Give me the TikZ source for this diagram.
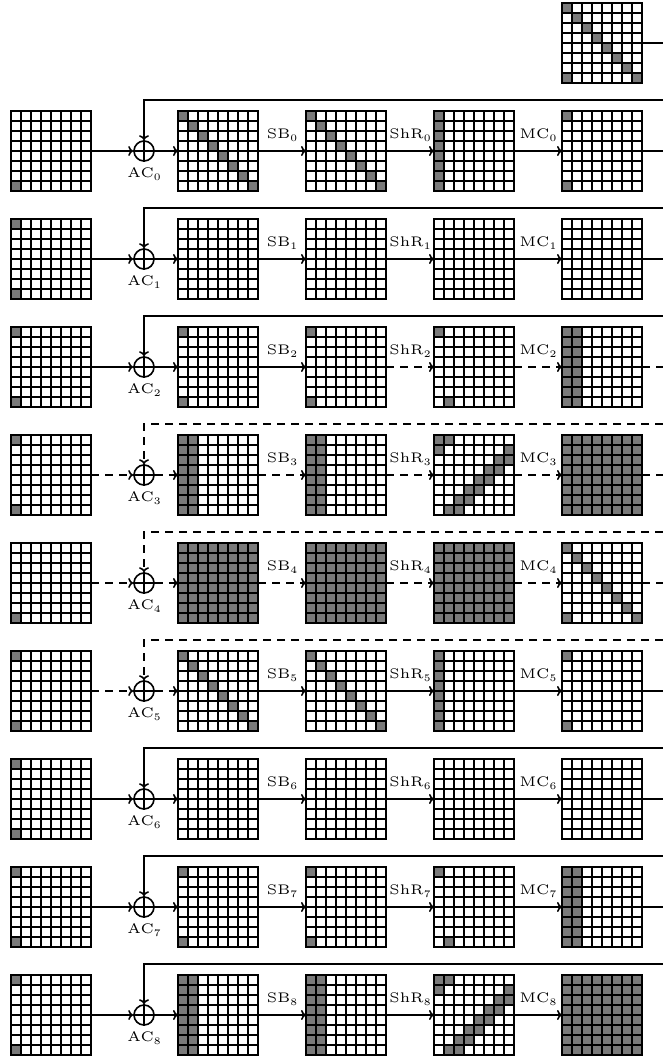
\documentclass[tikz,border=0pt]{standalone}
\usetikzlibrary{arrows.meta}
\tikzset{
  gridbox/.style={draw=none, minimum size=80pt, inner sep=0pt, outer sep=0pt},
  gline/.style={line width=1.5pt, line cap=rect},
  cellfill/.style={fill=black!52},
  conn/.style={line width=1.6pt},
  arr/.style={conn, -{To[length=5pt,width=10pt]}},
  dsh/.style={dash pattern=on 8pt off 6pt},
  xorc/.style={circle, draw, line width=1.6pt, minimum size=20pt, inner sep=0pt},
  lab/.style={inner sep=0pt, anchor=base},
}
\def\No{}
\def\Dg{0/0/0/0,1/1/1/1,2/2/2/2,3/3/3/3,4/4/4/4,5/5/5/5,6/6/6/6,7/7/7/7}
\def\Tp{0/0/0/0,1/1/1/1,2/2/2/2,3/3/3/3,4/4/4/4,5/5/5/5,6/6/6/6,7/7/7/7,7/0/7/0}
\def\Cz{0/0/7/0}
\def\Co{0/0/7/1}
\def\Al{0/0/7/7}
\def\Kb{7/0/7/0}
\def\Kt{0/0/0/0,7/0/7/0}
\def\Sh{0/0/0/0,7/1/7/1}
\def\St{0/0/0/1,1/0/1/0,1/7/1/7,2/6/2/7,3/5/3/6,4/4/4/5,5/3/5/4,6/2/6/3,7/1/7/2}
\newcommand\lbl[2]{\scalebox{2.78}{\fontsize{5}{6}\selectfont #1\raisebox{-1.1pt}{\fontsize{3.6}{4}\selectfont #2}}}
\newcommand\cellgrid[4]{%
  \node[gridbox] (#1) at (#2+40,#3+40) {};
  \ifx#4\No\else
    \foreach \pa/\pb/\pc/\pd in #4 {\fill[cellfill] (#2+\pb*10,#3+\pa*10) rectangle (#2+\pd*10+10,#3+\pc*10+10);}
  \fi
  \foreach \k in {0,...,8} {\draw[gline] (#2+\k*10,#3) -- (#2+\k*10,#3+80); \draw[gline] (#2,#3+\k*10) -- (#2+80,#3+\k*10);}
}
\newcommand\staterow[9]{%
  \pgfmathsetmacro\Y{111+108*#1}
  \pgfmathsetmacro\Yc{\Y+40}
  \cellgrid{k-#1}{11}{\Y}{#2}
  \cellgrid{a-#1}{178}{\Y}{#3}
  \cellgrid{s-#1}{306}{\Y}{#4}
  \cellgrid{h-#1}{434}{\Y}{#5}
  \cellgrid{m-#1}{562}{\Y}{#6}
  \node[xorc] (x-#1) at (144,\Yc) {};
  \draw[line width=1.4pt] (x-#1.north) -- (x-#1.south) (x-#1.west) -- (x-#1.east);
  \coordinate (in-#1) at (663,\Y-11);
  \coordinate (out-#1) at (663,\Yc);
  \draw[arr,#7] (in-#1) -| (x-#1);
  \draw[arr,#7] (k-#1) -- (x-#1);
  \draw[arr,#7] (x-#1) -- (a-#1);
  \draw[arr,#8] (a-#1) -- (s-#1);
  \draw[arr,#9] (s-#1) -- (h-#1);
  \draw[arr,#9] (h-#1) -- (m-#1);
  \node[lab] (lac-#1) at (144,\Yc+26) {\lbl{AC}{#1}};
  \node[lab] (lsb-#1) at (282,\Yc-12.3) {\lbl{SB}{#1}};
  \node[lab] (lsh-#1) at (410,\Yc-12.3) {\lbl{ShR}{#1}};
  \node[lab] (lmc-#1) at (538,\Yc-12.3) {\lbl{MC}{#1}};
}
\begin{document}
\begin{tikzpicture}[x=1pt,y=-1pt]
\fill[white] (0,0) rectangle (663,1057);
\useasboundingbox (0,0) rectangle (663,1057);
\cellgrid{top}{562}{3}{\Tp}
\coordinate (topout) at (663,43);
\draw[conn] (top) -- (topout);
\staterow{0}{\Kb}{\Dg}{\Dg}{\Cz}{\Kt}{solid}{solid}{solid}
\staterow{1}{\Kt}{\No}{\No}{\No}{\No}{solid}{solid}{solid}
\staterow{2}{\Kt}{\Kt}{\Kt}{\Sh}{\Co}{solid}{solid}{dsh}
\staterow{3}{\Kt}{\Co}{\Co}{\St}{\Al}{dsh}{dsh}{dsh}
\staterow{4}{\Kb}{\Al}{\Al}{\Al}{\Tp}{dsh}{dsh}{dsh}
\staterow{5}{\Kt}{\Dg}{\Dg}{\Cz}{\Kt}{dsh}{solid}{solid}
\staterow{6}{\Kt}{\No}{\No}{\No}{\No}{solid}{solid}{solid}
\staterow{7}{\Kt}{\Kt}{\Kt}{\Sh}{\Co}{solid}{solid}{solid}
\staterow{8}{\Kt}{\Co}{\Co}{\St}{\Al}{solid}{solid}{solid}
\draw[conn] (m-0) -- (out-0);
\draw[conn] (m-1) -- (out-1);
\draw[conn,dsh] (m-2) -- (out-2);
\draw[conn,dsh] (m-3) -- (out-3);
\draw[conn,dsh] (m-4) -- (out-4);
\draw[conn] (m-5) -- (out-5);
\draw[conn] (m-6) -- (out-6);
\draw[conn] (m-7) -- (out-7);
\end{tikzpicture}
\end{document}
